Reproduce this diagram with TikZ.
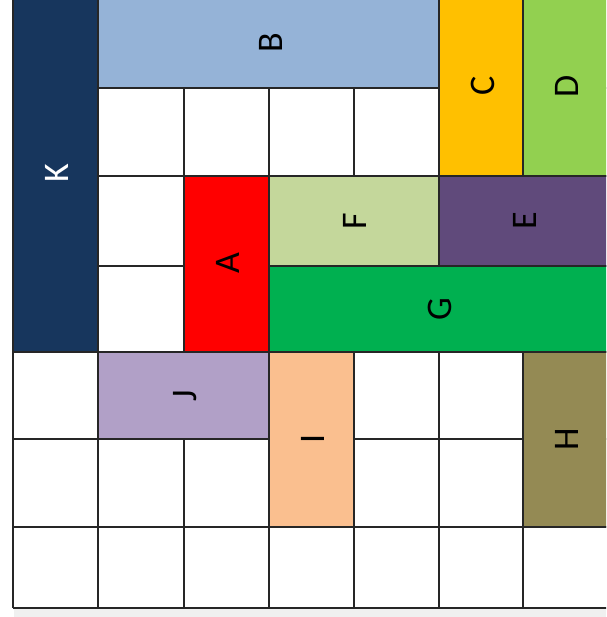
\documentclass[tikz,border=0pt]{standalone}
\usepackage{fontspec}
\setmainfont{Carlito}
\begin{document}
\begin{tikzpicture}[x=1pt,y=-1pt,
  gridline/.style={draw=black!85,line width=2pt},
  blk/.style={draw=black!85,line width=2pt},
  lbl/.style={rotate=90,inner sep=0pt,font=\fontsize{36}{36}\selectfont},
]
\definecolor{cK}{HTML}{17365D}
\definecolor{cB}{HTML}{95B3D7}
\definecolor{cC}{HTML}{FFC000}
\definecolor{cD}{HTML}{92D050}
\definecolor{cA}{HTML}{FF0000}
\definecolor{cF}{HTML}{C4D79B}
\definecolor{cE}{HTML}{604A7B}
\definecolor{cG}{HTML}{00B050}
\definecolor{cJ}{HTML}{B1A0C7}
\definecolor{cI}{HTML}{FABF8F}
\definecolor{cH}{HTML}{948A54}
\useasboundingbox (0,0) rectangle (606,617);
\fill[black!6] (14,609) rectangle (606,617);
\begin{scope}
\clip (0,0) rectangle (606,617);
% grid
\foreach \x in {13,98,184,269,354,439,523}
  \draw[gridline] (\x,-2) -- (\x,608);
\foreach \y in {88,176,266,352,439,527,608}
  \draw[gridline] (13,\y) -- (610,\y);
% blocks
\draw[blk,fill=cK] (13,-2) rectangle (98,352);
\draw[blk,fill=cB] (98,-2) rectangle (439,88);
\draw[blk,fill=cC] (439,-2) rectangle (523,176);
\draw[blk,fill=cD] (523,-2) rectangle (610,176);
\draw[blk,fill=cA] (184,176) rectangle (269,352);
\draw[blk,fill=cF] (269,176) rectangle (439,266);
\draw[blk,fill=cE] (439,176) rectangle (610,266);
\draw[blk,fill=cG] (269,266) rectangle (610,352);
\draw[blk,fill=cJ] (98,352) rectangle (269,439);
\draw[blk,fill=cI] (269,352) rectangle (354,527);
\draw[blk,fill=cH] (523,352) rectangle (610,527);
\end{scope}
% labels
\node[lbl,text=white] (K) at (57,173) {K};
\node[lbl] (B) at (271,43) {B};
\node[lbl] (C) at (483,86) {C};
\node[lbl] (D) at (567,86) {D};
\node[lbl] (A) at (228,263) {A};
\node[lbl] (F) at (355,221) {F};
\node[lbl] (E) at (525,221) {E};
\node[lbl] (G) at (440,309) {G};
\node[lbl] (J) at (185,396) {J};
\node[lbl] (I) at (313,439) {I};
\node[lbl] (H) at (567,439) {H};
\end{tikzpicture}
\end{document}
